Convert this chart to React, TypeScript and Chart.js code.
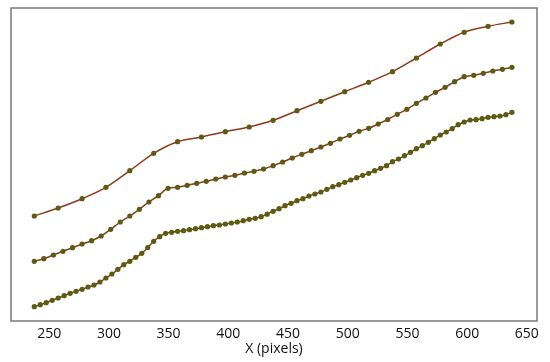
import React, { useEffect, useRef } from "react";
import { Chart, registerables } from "chart.js";

Chart.register(...registerables);

// x positions (pixels) of markers
const topX0 = 237.5, topStep = 20;
const midX0 = 237.5, midStep = 8;
const botX0 = 237.5, botStep = 5;

const topY = [105, 113, 122.3, 133.7, 150.3, 167.7, 179.3, 184, 189.3, 194, 200.7, 210.3, 219.7, 229.3, 238.7, 249.3, 263, 277, 288.7, 294.7, 299];

const midY = [59.7, 62.3, 66, 69.7, 73.3, 77, 80.3, 85, 91.7, 99, 105, 111.7, 119, 125.3, 132.7, 133.7, 135.7, 137.7, 139.7, 142, 144, 145.7, 148, 149.7, 152, 155.3, 159, 163, 166.7, 170.3, 174, 177.7, 182, 185.7, 189.7, 192.7, 197, 201.5, 206.7, 211.7, 217.7, 223, 228.7, 233.7, 239.3, 244.3, 245.7, 247.7, 250, 251.7, 253.7];

const botY = [14.3, 16.3, 18.3, 20.7, 23, 25.3, 27.7, 29.7, 31.7, 34, 36, 39, 43, 47, 51.7, 56.3, 59.7, 63.7, 67.7, 73.5, 79.7, 84.3, 87.7, 88.7, 89.7, 90.3, 91.3, 92.3, 93.3, 94.3, 95.3, 96, 97, 98, 99, 100.3, 101.7, 102.7, 104.3, 106.8, 109.7, 112.3, 115.3, 117.7, 120.3, 122.3, 125, 127, 129, 131.7, 134.3, 136.3, 138.7, 141, 143.3, 145.7, 147.7, 150.3, 152.7, 155.3, 159.3, 162, 165.3, 168.7, 172.3, 175.3, 178.7, 182.3, 186, 189, 192.3, 196.3, 199, 201, 201.3, 202.3, 203.7, 204.3, 205, 206.3, 208.7];

const xTicks = [250, 300, 350, 400, 450, 500, 550, 600, 650];
const xLabel = "X (pixels)";

const LINE = "#8E3A1C";
const MARK = "#5A5C12";

function toPoints(x0: number, step: number, ys: number[]) {
  return ys.map((y, i) => ({ x: x0 + step * i, y }));
}

const frame = {
  id: "frame",
  afterDraw(chart: any) {
    const { ctx, chartArea: a } = chart;
    ctx.save();
    ctx.strokeStyle = "#7a7a7a";
    ctx.lineWidth = 1.5;
    ctx.strokeRect(a.left, a.top, a.right - a.left, a.bottom - a.top);
    ctx.restore();
  },
};

export default function App() {
  const ref = useRef<HTMLCanvasElement>(null);
  useEffect(() => {
    document.body.style.margin = "0";
    const mk = (data: any[]) => ({
      data,
      borderColor: LINE,
      borderWidth: 1.5,
      backgroundColor: MARK,
      pointBackgroundColor: MARK,
      pointBorderColor: MARK,
      pointRadius: 2.6,
      pointBorderWidth: 0,
      cubicInterpolationMode: "monotone" as const,
    });
    const chart = new Chart(ref.current!, {
      type: "line",
      data: {
        datasets: [
          mk(toPoints(topX0, topStep, topY)),
          mk(toPoints(midX0, midStep, midY)),
          mk(toPoints(botX0, botStep, botY)),
        ],
      },
      options: {
        animation: false,
        responsive: false,
        layout: { padding: { left: 11, right: 13, top: 8, bottom: 6 } },
        plugins: { legend: { display: false }, tooltip: { enabled: false } },
        scales: {
          x: {
            type: "linear",
            min: 218,
            max: 658.5,
            grid: { display: false, drawTicks: false, tickLength: 0 },
            border: { display: false },
            afterBuildTicks: (s: any) => {
              s.ticks = xTicks.map((v) => ({ value: v }));
            },
            afterFit: (s: any) => {
              s.height = 35;
            },
            ticks: {
              padding: 6,
              color: "#111",
              font: { family: "Open Sans", size: 14, lineHeight: 1 },
              maxRotation: 0,
              autoSkip: false,
            },
            title: {
              display: true,
              text: xLabel,
              color: "#111",
              font: { family: "Open Sans", size: 14, lineHeight: 1 },
              padding: { top: 0, bottom: 0 },
            },
          },
          y: {
            type: "linear",
            display: false,
            min: 0,
            max: 313,
          },
        },
      },
      plugins: [frame],
    });
    return () => chart.destroy();
  }, []);
  return <canvas ref={ref} width={550} height={362} style={{ display: "block" }} />;
}
